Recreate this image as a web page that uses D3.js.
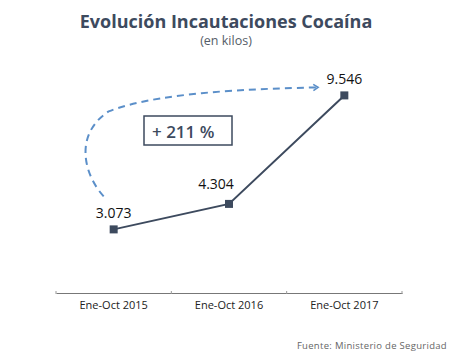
<!DOCTYPE html>
<html>
<head>
<meta charset="utf-8">
<script src="https://cdn.jsdelivr.net/npm/d3@7"></script>
<style>
  body { margin: 0; background: #fff; }
  text { font-family: "Open Sans", sans-serif; }
</style>
</head>
<body>
<div id="wrapper"></div>
<script>
// datos del grafico
const periods = ["Ene-Oct 2015", "Ene-Oct 2016", "Ene-Oct 2017"];
const kilos = [3073, 4304, 9546];
const valueLabels = ["3.073", "4.304", "9.546"];
const changeLabel = "+ 211 %";

function buildPlot() {
    const dimension = {
        width: 452,
        height: 353,
        margin: { top: 86, left: 56, bottom: 60, right: 50 }
    };
    dimension.boundedWidth = dimension.width - dimension.margin.left - dimension.margin.right;
    dimension.boundedHeight = dimension.height - dimension.margin.top - dimension.margin.bottom;

    const svg = d3.select("#wrapper").append("svg")
        .attr("width", dimension.width)
        .attr("height", dimension.height);

    const ink = "#3d4a5e";

    svg.append("text")
        .attr("x", 226).attr("y", 28)
        .attr("text-anchor", "middle")
        .style("font-size", "18px").style("font-weight", "bold")
        .style("fill", ink)
        .text("Evolución Incautaciones Cocaína");

    svg.append("text")
        .attr("x", 226).attr("y", 45)
        .attr("text-anchor", "middle")
        .style("font-size", "12.5px")
        .style("fill", "#555d68")
        .text("(en kilos)");

    const bounded = svg.append("g")
        .attr("transform", `translate(${dimension.margin.left},${dimension.margin.top})`);

    const xScaler = d3.scaleBand()
        .domain(periods)
        .range([0, dimension.boundedWidth]);

    const yScaler = d3.scaleLinear()
        .domain([0, 10000])
        .range([dimension.boundedHeight, 0]);

    const xCenter = (d, i) => xScaler(periods[i]) + xScaler.bandwidth() / 2;

    // eje x
    const xAxis = d3.axisBottom(xScaler).tickSize(0).tickPadding(8);
    const axisG = bounded.append("g")
        .attr("transform", `translate(0,${dimension.boundedHeight})`)
        .call(xAxis);
    axisG.select(".domain").attr("stroke", "#777").attr("stroke-width", 1);
    axisG.selectAll("text")
        .style("font-size", "11px")
        .style("font-family", "'Open Sans', sans-serif")
        .style("fill", "#222");
    // separadores entre categorias
    axisG.selectAll(".sep")
        .data([0, 1, 2, 3])
        .join("line")
        .attr("x1", i => i * xScaler.step())
        .attr("x2", i => i * xScaler.step())
        .attr("y1", -2).attr("y2", 1)
        .attr("stroke", "#999");

    // linea
    const lineGenerator = d3.line()
        .x(xCenter)
        .y(d => yScaler(d));

    bounded.append("path")
        .attr("d", lineGenerator(kilos))
        .attr("fill", "none")
        .attr("stroke", ink)
        .attr("stroke-width", 2);

    bounded.selectAll(".pt")
        .data(kilos)
        .join("rect")
        .attr("x", (d, i) => xCenter(d, i) - 4)
        .attr("y", d => yScaler(d) - 4)
        .attr("width", 8).attr("height", 8)
        .attr("fill", ink);

    bounded.selectAll(".lbl")
        .data(kilos)
        .join("text")
        .attr("x", (d, i) => xCenter(d, i) - [0, 13, 0][i])
        .attr("y", (d, i) => yScaler(d) - [11, 15, 11][i])
        .attr("text-anchor", "middle")
        .style("font-size", "14px")
        .style("fill", "#111")
        .text((d, i) => valueLabels[i]);

    // flecha de variacion
    const x0 = xCenter(kilos[0], 0), y0 = yScaler(kilos[0]);
    const x2 = xCenter(kilos[2], 2), y2 = yScaler(kilos[2]);
    const p = d3.path();
    p.moveTo(x0 - 10, y0 - 33);
    p.bezierCurveTo(x0 - 30, y0 - 55, x0 - 40, y0 - 95, x0 - 5, y0 - 118);
    p.bezierCurveTo(x0 + 50, y0 - 140, x2 - 60, y2 - 7, x2 - 27, y2 - 8);

    svg.append("defs").append("marker")
        .attr("id", "arrow")
        .attr("viewBox", "0 0 10 10")
        .attr("refX", 6).attr("refY", 5)
        .attr("markerWidth", 4).attr("markerHeight", 4)
        .attr("orient", "auto")
        .append("path")
        .attr("d", "M1,1 L7,5 L1,9")
        .attr("fill", "none")
        .attr("stroke", "#5b8fc9")
        .attr("stroke-width", 2);

    bounded.append("path")
        .attr("d", p.toString())
        .attr("fill", "none")
        .attr("stroke", "#5b8fc9")
        .attr("stroke-width", 2)
        .attr("stroke-dasharray", "7,5")
        .attr("marker-end", "url(#arrow)");

    // recuadro
    bounded.append("rect")
        .attr("x", 144 - dimension.margin.left)
        .attr("y", 116 - dimension.margin.top)
        .attr("width", 88).attr("height", 29)
        .attr("fill", "none")
        .attr("stroke", ink)
        .attr("stroke-width", 1.5);

    bounded.append("text")
        .attr("x", 152 - dimension.margin.left)
        .attr("y", 138 - dimension.margin.top)
        .style("font-size", "17px")
        .style("font-weight", "600")
        .style("fill", ink)
        .text(changeLabel);

    svg.append("text")
        .attr("x", 447).attr("y", 349)
        .attr("text-anchor", "end")
        .style("font-size", "9.5px")
        .style("letter-spacing", "0.3px")
        .style("fill", "#666")
        .text("Fuente: Ministerio de Seguridad");
}

buildPlot();
</script>
</body>
</html>
